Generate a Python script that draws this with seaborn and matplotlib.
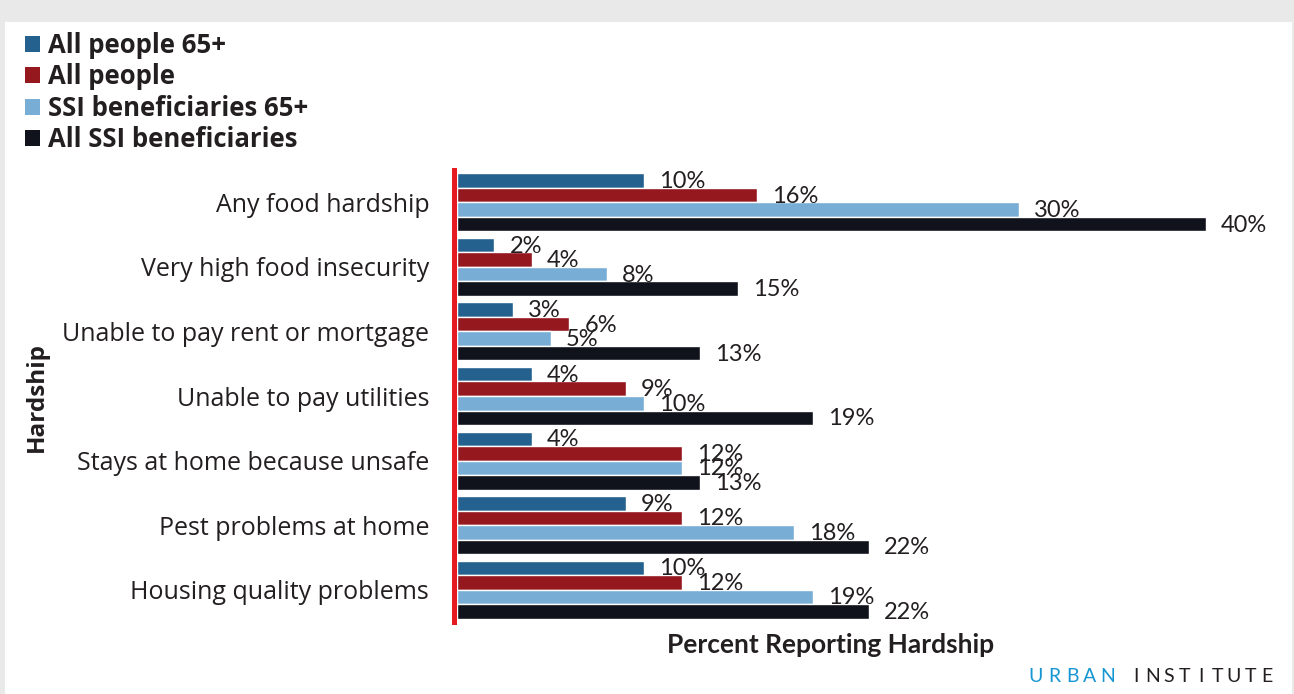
import matplotlib
matplotlib.use("Agg")
import matplotlib.pyplot as plt
from matplotlib.patches import Patch, Rectangle
import seaborn as sns
import pandas as pd

# Hardship categories (top to bottom) and the four population groups
hardships = [
    "Any food hardship",
    "Very high food insecurity",
    "Unable to pay rent or mortgage",
    "Unable to pay utilities",
    "Stays at home because unsafe",
    "Pest problems at home",
    "Housing quality problems",
]
groups = ["All people 65+", "All people", "SSI beneficiaries 65+", "All SSI beneficiaries"]

all_people_65 = [10, 2, 3, 4, 4, 9, 10]
all_people = [16, 4, 6, 9, 12, 12, 12]
ssi_65 = [30, 8, 5, 10, 12, 18, 19]
all_ssi = [40, 15, 13, 19, 13, 22, 22]

colors = ["#24618F", "#95181F", "#78AED5", "#10121C"]

rows = []
for g, vals in zip(groups, [all_people_65, all_people, ssi_65, all_ssi]):
    for h, v in zip(hardships, vals):
        rows.append({"Hardship": h, "Group": g, "Percent": v})
df = pd.DataFrame(rows)

sns.set_theme(style="white")
plt.rcParams["font.family"] = ["Open Sans", "DejaVu Sans"]
text_color = "#231F20"
condensed = ["Lato", "DejaVu Sans"]

fig = plt.figure(figsize=(12.94, 6.94), dpi=100)
fig.patch.set_facecolor("#E9E9E9")
fig.add_artist(Rectangle((5 / 1294, 0), (1292 - 5) / 1294, (694 - 22) / 694,
                         transform=fig.transFigure, facecolor="white",
                         edgecolor="none", zorder=0))

ax = fig.add_axes([457 / 1294, 1 - 622 / 694, 800 / 1294, 452 / 694])
ax.set_facecolor("none")

sns.barplot(data=df, y="Hardship", x="Percent", hue="Group", orient="h",
            palette=colors, hue_order=groups, order=hardships, width=0.9,
            saturation=1, legend=False, ax=ax)

ax.set_xlim(0, 800 / 18.73)
ax.set_ylim(len(hardships) - 0.5, -0.5)

# value labels at the end of each bar
for container in ax.containers:
    for bar in container:
        v = bar.get_width()
        ax.annotate(f"{v:g}%", xy=(v, bar.get_y() + bar.get_height() / 2),
                    xytext=(15, -1), textcoords="offset pixels",
                    ha="left", va="center", fontsize=17, color=text_color,
                    family=condensed)

for s in ["top", "right", "bottom"]:
    ax.spines[s].set_visible(False)
ax.spines["left"].set_color("#E41B23")
ax.spines["left"].set_linewidth(3.6)
ax.spines["left"].set_position(("outward", 2))
ax.set_xticks([])
ax.tick_params(axis="y", length=0, pad=18, labelsize=18, labelcolor=text_color)
ax.set_ylabel("")
ax.set_xlabel("")

fig.text(831 / 1294, 1 - 645 / 694, "Percent Reporting Hardship",
         ha="center", va="center", fontsize=19, fontweight="bold",
         color=text_color, family=condensed)
fig.text(37 / 1294, 1 - 397 / 694, "Hardship", rotation=90,
         ha="center", va="center", fontsize=17.5, fontweight="bold", color=text_color)

handles = [Patch(facecolor=c, edgecolor="none", label=g) for c, g in zip(colors, groups)]
fig.legend(handles=handles, loc="upper left", bbox_to_anchor=(25 / 1294, 1 - 32 / 694),
           frameon=False, borderpad=0, borderaxespad=0, handlelength=0.6,
           handleheight=0.6, handletextpad=0.3, labelspacing=0.17,
           prop={"weight": "bold", "size": 18.5}, labelcolor=text_color)

# letter-spaced wordmark
for i, ch in enumerate("URBAN"):
    fig.text((1036 + i * 18.0) / 1294, 1 - 676 / 694, ch, ha="center", va="center",
             fontsize=14, color="#1696D2", family=condensed)
for i, ch in enumerate("INSTITUTE"):
    fig.text((1136 + i * 16.3) / 1294, 1 - 676 / 694, ch, ha="center", va="center",
             fontsize=14, color=text_color, family=condensed)

fig.savefig("out.png", dpi=100, facecolor=fig.get_facecolor())
